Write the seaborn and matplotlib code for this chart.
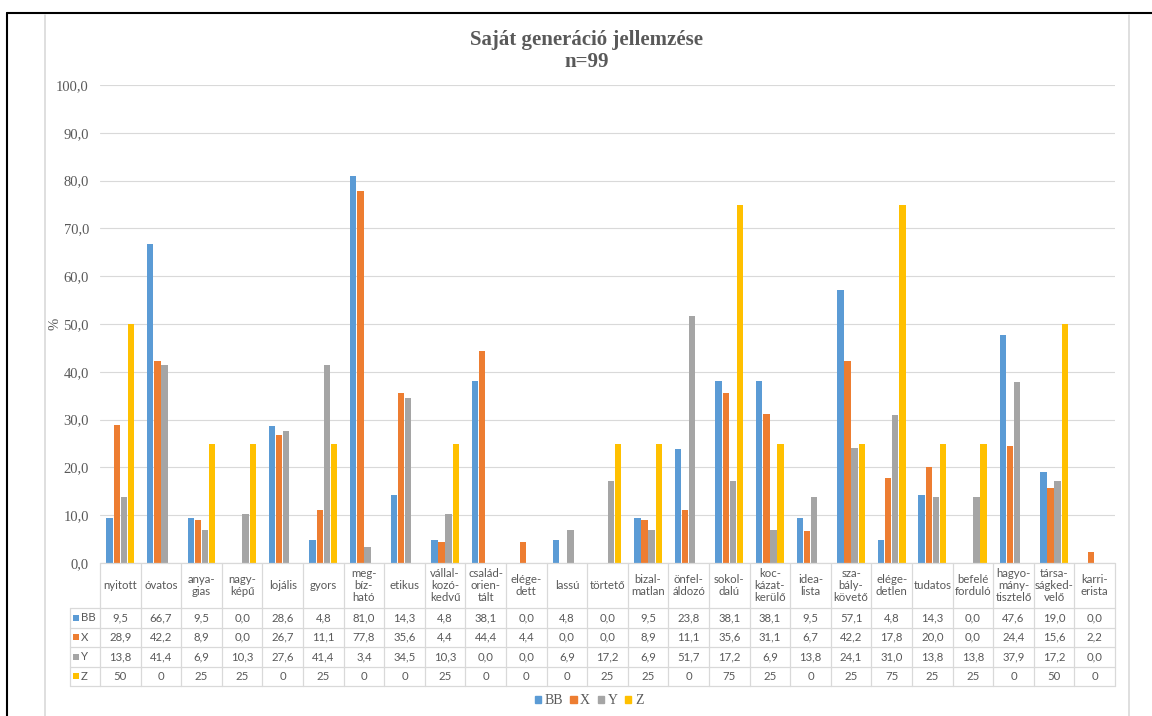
import numpy as np
import pandas as pd
import seaborn as sns
import matplotlib.pyplot as plt
from matplotlib.patches import Patch, Rectangle
from matplotlib.lines import Line2D
from matplotlib.transforms import blended_transform_factory

# adatok (a táblázatból leolvasva)
kategoriak = [
    "nyitott", "óvatos", "anya-\ngias", "nagy-\nképű", "lojális", "gyors",
    "meg-\nbíz-\nható", "etikus", "vállal-\nkozó-\nkedvű", "család-\norien-\ntált",
    "elége-\ndett", "lassú", "törtető", "bizal-\nmatlan", "önfel-\náldozó",
    "sokol-\ndalú", "koc-\nkázat-\nkerülő", "idea-\nlista", "sza-\nbály-\nkövető",
    "elége-\ndetlen", "tudatos", "befelé\nforduló", "hagyo-\nmány-\ntisztelő",
    "társa-\nságked-\nvelő", "karri-\nerista",
]
bb = [9.5, 66.7, 9.5, 0.0, 28.6, 4.8, 81.0, 14.3, 4.8, 38.1, 0.0, 4.8, 0.0,
      9.5, 23.8, 38.1, 38.1, 9.5, 57.1, 4.8, 14.3, 0.0, 47.6, 19.0, 0.0]
x_gen = [28.9, 42.2, 8.9, 0.0, 26.7, 11.1, 77.8, 35.6, 4.4, 44.4, 4.4, 0.0, 0.0,
         8.9, 11.1, 35.6, 31.1, 6.7, 42.2, 17.8, 20.0, 0.0, 24.4, 15.6, 2.2]
y_gen = [13.8, 41.4, 6.9, 10.3, 27.6, 41.4, 3.4, 34.5, 10.3, 0.0, 0.0, 6.9, 17.2,
         6.9, 51.7, 17.2, 6.9, 13.8, 24.1, 31.0, 13.8, 13.8, 37.9, 17.2, 0.0]
z_gen = [50, 0, 25, 25, 0, 25, 0, 0, 25, 0, 0, 0, 25, 25, 0, 75, 25, 0, 25, 75,
         25, 25, 0, 50, 0]
generaciok = ["BB", "X", "Y", "Z"]
szinek = ["#5B9BD5", "#ED7D31", "#A5A5A5", "#FFC000"]
y_ticks = list(range(0, 101, 10))

W, H = 1152, 716
GRAY = "#595959"
LINE = "#D9D9D9"


def fx(px):
    return px / W


def fy(py):
    return 1 - py / H


df = pd.DataFrame({
    "kat": kategoriak * 4,
    "gen": np.repeat(generaciok, len(kategoriak)),
    "ertek": bb + x_gen + y_gen + z_gen,
})

sns.set_theme(style="white")
plt.rcParams["font.family"] = ["Liberation Serif", "DejaVu Serif"]

fig = plt.figure(figsize=(W / 100, H / 100), dpi=100)
ax = fig.add_axes([fx(100), fy(563), fx(1115) - fx(100), fy(85) - fy(563)])
sns.barplot(data=df, x="kat", y="ertek", hue="gen", order=kategoriak,
            palette=szinek, saturation=1, width=0.7, gap=0.1, linewidth=0,
            legend=False, ax=ax)
ax.set_xlim(-0.5, len(kategoriak) - 0.5)
ax.set_ylim(0, 100)
ax.set_yticks(y_ticks)
ax.set_yticklabels([f"{v:.1f}".replace(".", ",") for v in y_ticks],
                   fontsize=10.5, color=GRAY)
ax.set_xticks([])
ax.set_xlabel("")
ax.set_ylabel("")
ax.grid(axis="y", color=LINE, linewidth=0.8)
ax.set_axisbelow(True)
for s in ax.spines.values():
    s.set_visible(False)
ax.tick_params(axis="y", length=0, pad=8)

# cím, tengelyfelirat
fig.text(fx(587), fy(40), "Saját generáció jellemzése", ha="center", va="center",
         fontsize=15, weight="bold", color=GRAY)
fig.text(fx(587), fy(62), "n=99", ha="center", va="center",
         fontsize=15, weight="bold", color=GRAY)
fig.text(fx(55), fy(324), "%", rotation=90, ha="center", va="center",
         fontsize=10.5, color=GRAY)

# adattábla a diagram alatt
tr = blended_transform_factory(ax.transData, fig.transFigure)
n = len(kategoriak)
lab_left = -0.5 - 30 / 40.6
sorok = [608, 627.5, 647, 666.5, 686]
tfont = dict(family=["Lato", "DejaVu Sans"], color=GRAY)

fig.add_artist(Line2D([-0.5, n - 0.5], [fy(563), fy(563)], transform=tr,
                      color=LINE, lw=0.9))
for yy in sorok:
    fig.add_artist(Line2D([lab_left, n - 0.5], [fy(yy), fy(yy)], transform=tr,
                          color=LINE, lw=0.9))
fig.add_artist(Line2D([lab_left, lab_left], [fy(608), fy(686)], transform=tr,
                      color=LINE, lw=0.9))
for i in range(n + 1):
    fig.add_artist(Line2D([i - 0.5, i - 0.5], [fy(563), fy(686)], transform=tr,
                          color=LINE, lw=0.9))

for i, k in enumerate(kategoriak):
    fig.text(i, fy(585.5), k, transform=tr, ha="center", va="center",
             fontsize=8.2, linespacing=1.1, **tfont)

sorertekek = [bb, x_gen, y_gen, z_gen]
for r, (g, c, vals) in enumerate(zip(generaciok, szinek, sorertekek)):
    yc = (sorok[r] + sorok[r + 1]) / 2
    fig.add_artist(Rectangle((fx(73), fy(yc + 3)), 6 / W, 6 / H,
                             transform=fig.transFigure, color=c, lw=0))
    fig.text(fx(81), fy(yc), g, ha="left", va="center", fontsize=8.2, **tfont)
    for i, v in enumerate(vals):
        s = str(v) if g == "Z" else f"{v:.1f}".replace(".", ",")
        fig.text(i, fy(yc), s, transform=tr, ha="center", va="center",
                 fontsize=8.2, **tfont)

# jelmagyarázat
fig.legend(handles=[Patch(color=c, label=g) for g, c in zip(generaciok, szinek)],
           loc="center", bbox_to_anchor=(fx(589), fy(701)), ncol=4, frameon=False,
           handlelength=0.45, handleheight=0.45, handletextpad=0.25,
           columnspacing=0.55, prop={"size": 10}, labelcolor=GRAY)

# keret
fig.add_artist(Line2D([fx(7), fx(7)], [0, fy(13)], color="black", lw=1.5))
fig.add_artist(Line2D([fx(7), 1], [fy(13), fy(13)], color="black", lw=1.5))
fig.add_artist(Line2D([fx(45), fx(45)], [0, fy(15)], color=LINE, lw=1.2))
fig.add_artist(Line2D([fx(1129), fx(1129)], [0, fy(15)], color=LINE, lw=1.2))

fig.savefig("out.png", dpi=100)
